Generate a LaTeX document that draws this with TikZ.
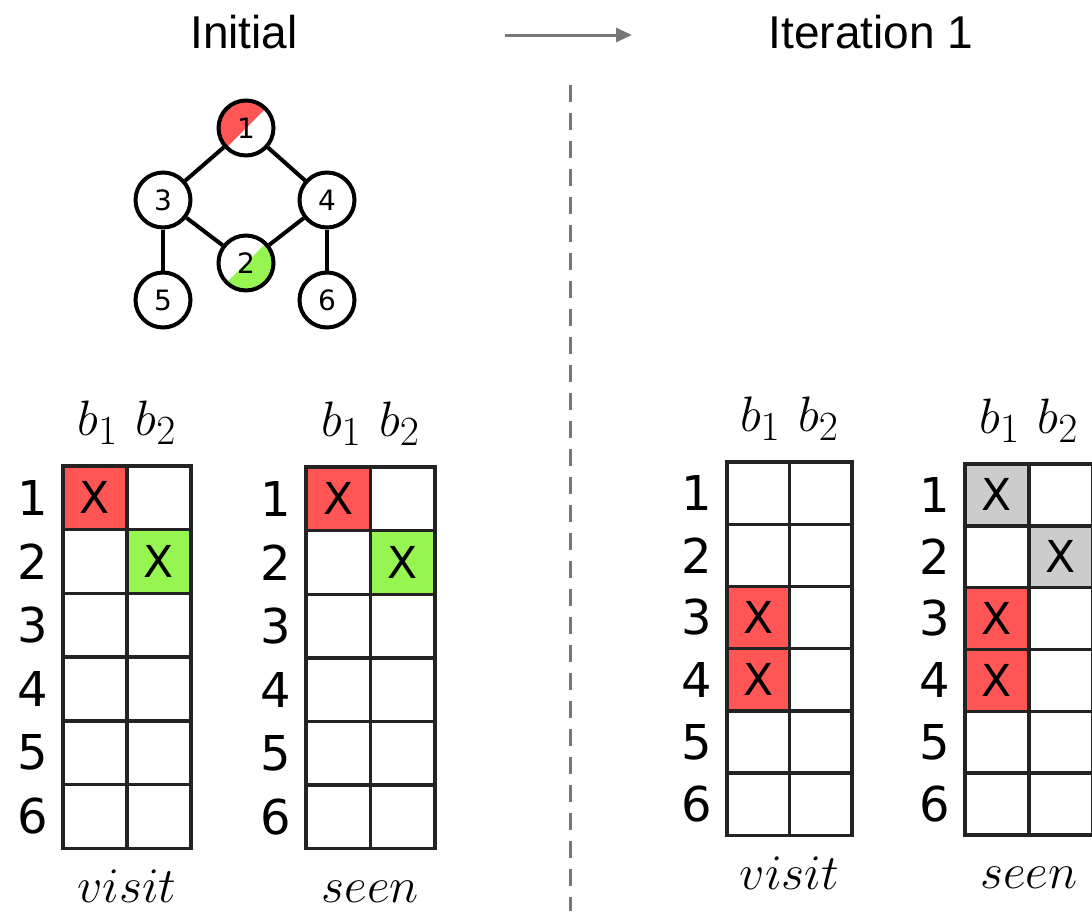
\documentclass[tikz,border=0pt]{standalone}
\usepackage{fontspec}
\newfontfamily\dejavu{DejaVu Sans}
\newfontfamily\headfont{Liberation Sans}
\usetikzlibrary{arrows.meta}

\definecolor{hitred}{RGB}{255,85,85}
\definecolor{hitgreen}{RGB}{150,245,80}
\definecolor{oldgray}{RGB}{204,204,204}
\definecolor{gridline}{RGB}{35,35,35}
\definecolor{guide}{RGB}{120,120,120}

\tikzset{
  title/.style={font=\headfont\fontsize{23}{28}\selectfont, anchor=base, inner sep=0pt},
  vertex/.style={circle, draw=black, line width=2pt, minimum size=27.5pt, inner sep=0pt,
    fill=white, font=\dejavu\fontsize{14}{16}\selectfont},
  upper half/.style={path picture={\fill[#1] (path picture bounding box.north west)
    -- (path picture bounding box.north east) -- (path picture bounding box.south west) -- cycle;}},
  lower half/.style={path picture={\fill[#1] (path picture bounding box.south east)
    -- (path picture bounding box.north east) -- (path picture bounding box.south west) -- cycle;}},
  edge/.style={line width=2pt},
  cell/.style={rectangle, draw=gridline, line width=1.7pt, inner sep=0pt, outer sep=0pt,
    font=\dejavu\fontsize{22}{26}\selectfont},
  rowlabel/.style={font=\dejavu\fontsize{24}{28}\selectfont, inner sep=0pt},
  mathlabel/.style={font=\fontsize{29}{35}\selectfont, anchor=base, inner sep=0pt},
  flow/.style={draw=guide, line width=1.5pt, -{Triangle[length=8pt,width=7pt]}},
  divider/.style={draw=guide, line width=1.5pt, dash pattern=on 8.5pt off 5.5pt},
}

% bit table: name, left, top, cell width, cell height, caption, marked cells (row/col/colour)
\newcommand\bittable[7]{%
  \foreach \r/\c/\col in {#7}{\expandafter\xdef\csname mk-#1-\r-\c\endcsname{\col}}%
  \foreach \r in {1,...,6}{%
    \pgfmathsetmacro\cy{#3+(\r-0.5)*#5}%
    \node[rowlabel] (#1-l\r) at (#2-30,\cy) {\r};
    \foreach \c in {1,2}{%
      \pgfmathsetmacro\cx{#2+(\c-0.5)*#4}%
      \ifcsname mk-#1-\r-\c\endcsname
        \edef\cellfill{\csname mk-#1-\r-\c\endcsname}\def\celltext{X}%
      \else
        \def\cellfill{white}\def\celltext{}%
      \fi
      \node[cell, fill=\cellfill, minimum width=#4*0.5pt, minimum height=#5*0.5pt]
        (#1-\r-\c) at (\cx,\cy) {\celltext};
    }%
  }%
  \node[mathlabel] (#1-head) at (#2+#4,#3-31) {$b_1$ $b_2$};
  \node[mathlabel] (#1-cap) at (#2+#4,#3+6*#5+54) {$#6$};
}

\begin{document}
\begin{tikzpicture}[x=0.5pt, y=-0.5pt]
  \useasboundingbox (0,0) rectangle (1092,911);
  \clip (0,0) rectangle (1092,911);

  % headings and the step arrow
  \node[title] (t-init) at (244,48) {Initial};
  \node[title] (t-iter) at (871,48) {Iteration 1};
  \coordinate (step-from) at (505,35);
  \coordinate (step-to) at (632,35);
  \draw[flow] (step-from) -- (step-to);

  % separator between the two states
  \coordinate (div-top) at (570,85);
  \coordinate (div-bot) at (570,911);
  \draw[divider] (div-top) -- (div-bot);

  % graph
  \node[vertex, upper half=hitred] (n1) at (246,128) {1};
  \node[vertex] (n3) at (163,200) {3};
  \node[vertex] (n4) at (327,200) {4};
  \node[vertex, lower half=hitgreen] (n2) at (246,263) {2};
  \node[vertex] (n5) at (163,300) {5};
  \node[vertex] (n6) at (327,300) {6};
  \draw[edge] (n1) -- (n3);
  \draw[edge] (n1) -- (n4);
  \draw[edge] (n3) -- (n2);
  \draw[edge] (n4) -- (n2);
  \draw[edge] (n3) -- (n5);
  \draw[edge] (n4) -- (n6);

  % initial state
  \bittable{iv}{63}{466}{64}{63.7}{visit}{1/1/hitred,2/2/hitgreen}
  \bittable{is}{306}{467}{64.5}{63.6}{seen}{1/1/hitred,2/2/hitgreen}

  % after the first iteration
  \bittable{tv}{727}{462}{62.5}{62.2}{visit}{3/1/hitred,4/1/hitred}
  \bittable{ts}{965}{464}{64}{61.8}{seen}{1/1/oldgray,2/2/oldgray,3/1/hitred,4/1/hitred}
\end{tikzpicture}
\end{document}
